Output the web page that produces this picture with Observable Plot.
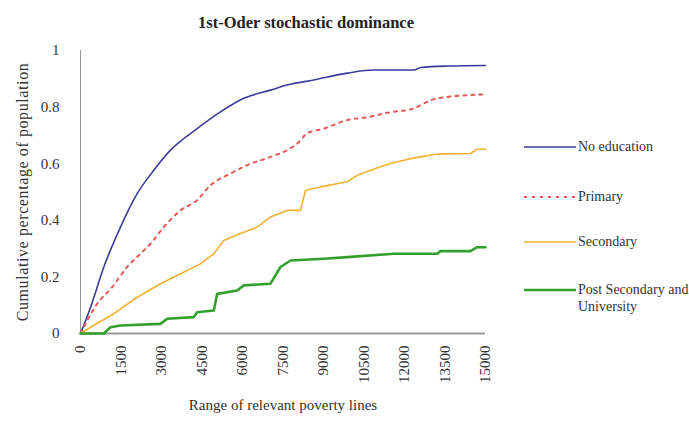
<!DOCTYPE html>
<html>
<head>
<meta charset="utf-8">
<script src="https://cdn.jsdelivr.net/npm/d3@7"></script>
<script src="https://cdn.jsdelivr.net/npm/@observablehq/plot@0.6"></script>
<style>
  body { margin: 0; background: #fff; }
  #wrap { position: relative; width: 689px; height: 434px; font-family: "Liberation Serif", "Times New Roman", Times, "DejaVu Serif", serif; color: #222; }
  #wrap svg.plot { position: absolute; left: 0; top: 0; }
  #title { position: absolute; left: 156px; width: 300px; top: 13px; text-align: center; font-weight: bold; font-size: 16.5px; white-space: nowrap; }
  .leg { position: absolute; left: 524px; font-size: 14px; line-height: 17px; display: flex; align-items: flex-start; color: #333; white-space: nowrap; }
  .leg svg { flex: none; }
  .leg span { margin-left: 2px; }
</style>
</head>
<body>
<div id="wrap">
  <div id="title">1st-Oder stochastic dominance</div>
</div>
<script>
const seriesNames = ["No education", "Primary", "Secondary", "Post Secondary and University"];
const seriesColors = ["#3b3b9c", "#e25a5a", "#f2b233", "#34a02c"];
const xTicks = [0, 1500, 3000, 4500, 6000, 7500, 9000, 10500, 12000, 13500, 15000];
const yTicks = [0, 0.2, 0.4, 0.6, 0.8, 1];

const noEduX = [0, 370, 864, 1481, 2099, 2716, 3333, 4321, 5185, 6049, 7037, 7654, 8642, 9877, 10864, 12346, 12600, 13580, 15000];
const noEduY = [0, 0.092, 0.235, 0.376, 0.494, 0.577, 0.648, 0.724, 0.783, 0.831, 0.860, 0.878, 0.896, 0.920, 0.931, 0.931, 0.940, 0.945, 0.947];

const primX = [0, 617, 1173, 1728, 2222, 2593, 3086, 3704, 4321, 4815, 5556, 6173, 7037, 7654, 8025, 8395, 9012, 9877, 10741, 11358, 12346, 12716, 13210, 15000];
const primY = [0, 0.105, 0.164, 0.235, 0.282, 0.317, 0.376, 0.435, 0.471, 0.524, 0.565, 0.595, 0.624, 0.648, 0.671, 0.707, 0.724, 0.754, 0.766, 0.780, 0.795, 0.813, 0.831, 0.845];

const secX = [0, 370, 1235, 2099, 2963, 3704, 4444, 4938, 5309, 5926, 6543, 7037, 7654, 8148, 8333, 8889, 9877, 10247, 11111, 11481, 12222, 13210, 14444, 14691, 15000];
const secY = [0, 0.022, 0.070, 0.128, 0.176, 0.211, 0.246, 0.282, 0.329, 0.353, 0.376, 0.412, 0.435, 0.435, 0.506, 0.518, 0.536, 0.559, 0.589, 0.601, 0.618, 0.634, 0.636, 0.651, 0.651];

const postX = [0, 864, 1111, 1481, 2963, 3210, 4198, 4321, 4938, 5062, 5802, 6049, 7037, 7407, 7778, 9012, 9877, 11605, 13210, 13333, 14444, 14691, 15000];
const postY = [0, 0, 0.022, 0.028, 0.034, 0.052, 0.058, 0.075, 0.081, 0.140, 0.152, 0.170, 0.176, 0.235, 0.258, 0.264, 0.270, 0.282, 0.282, 0.291, 0.291, 0.305, 0.305];

const toRows = (xs, ys) => xs.map((x, i) => ({x, y: ys[i]}));
const series = [
  {rows: toRows(noEduX, noEduY), width: 1.6, dash: null, curve: "monotone-x"},
  {rows: toRows(primX, primY), width: 2, dash: "3,5", curve: "monotone-x"},
  {rows: toRows(secX, secY), width: 1.6, dash: null, curve: "linear"},
  {rows: toRows(postX, postY), width: 2.6, dash: null, curve: "linear"}
];

const serif = '"Liberation Serif", "Times New Roman", Times, "DejaVu Serif", serif';
const chart = Plot.plot({
  width: 689,
  height: 434,
  marginLeft: 80,
  marginRight: 204,
  marginTop: 50,
  marginBottom: 101,
  style: {fontFamily: serif, fontSize: "15px", color: "#333", background: "transparent"},
  x: {domain: [0, 15000]},
  y: {domain: [0, 1]},
  marks: [
    Plot.axisX({ticks: xTicks, tickFormat: d => String(d), tickRotate: -90, tickSize: 0, tickPadding: 12, fontSize: 15, label: "Range of relevant poverty lines", labelAnchor: "center", labelOffset: 76, labelArrow: "none"}),
    Plot.axisY({ticks: yTicks, tickFormat: d => String(d), tickSize: 0, tickPadding: 21, fontSize: 15, label: "Cumulative percentage of population", labelAnchor: "center", labelOffset: 64, labelArrow: "none"}),
    Plot.ruleX([0], {stroke: "#999", strokeWidth: 1}),
    Plot.ruleY([0], {stroke: "#999", strokeWidth: 2}),
    ...series.map((s, i) => Plot.line(s.rows, {x: "x", y: "y", stroke: seriesColors[i], strokeWidth: s.width, strokeDasharray: s.dash, curve: s.curve}))
  ]
});
chart.classList.add("plot");
chart.style.fontFamily = serif;
const wrap = document.getElementById("wrap");
wrap.appendChild(chart);
// widen the y-axis label to the reference's spacing
chart.querySelectorAll("g[aria-label='y-axis label'] text").forEach(t => { t.style.fontSize = "16px"; t.style.letterSpacing = "0.6px"; });

const legendTops = [138, 188, 233, 281];
seriesNames.forEach((name, i) => {
  const div = document.createElement("div");
  div.className = "leg";
  div.style.top = legendTops[i] + "px";
  const svg = d3.create("svg").attr("width", 52).attr("height", 17);
  svg.append("line").attr("x1", 0).attr("x2", 52).attr("y1", 9).attr("y2", 9)
    .attr("stroke", seriesColors[i]).attr("stroke-width", series[i].width)
    .attr("stroke-dasharray", series[i].dash);
  div.appendChild(svg.node());
  const span = document.createElement("span");
  span.innerHTML = i === 3 ? "Post Secondary and<br>University" : name;
  div.appendChild(span);
  wrap.appendChild(div);
});
</script>
</body>
</html>
